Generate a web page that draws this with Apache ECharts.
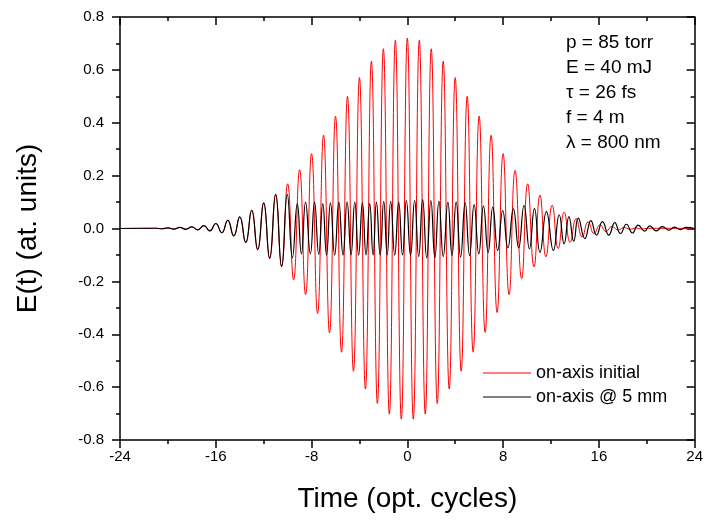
<!DOCTYPE html>
<html>
<head>
<meta charset="utf-8">
<script src="https://cdn.jsdelivr.net/npm/echarts@6/dist/echarts.min.js"></script>
<style>
  html, body { margin: 0; padding: 0; background: #fff; }
  #chart { width: 706px; height: 525px; }
</style>
</head>
<body>
<div id="chart"></div>
<script>
// field extrema: [time (opt. cycles), E (at. units)]
const redPeaks = [
  [-24, 0], [-21, 0.001], [-20.5, -0.001], [-20, 0.002], [-19.5, -0.002],
  [-19, 0.004], [-18.5, -0.003], [-18, 0.006], [-17.5, -0.005], [-17, 0.011],
  [-16.5, -0.009], [-16, 0.019], [-15.5, -0.016], [-15, 0.031], [-14.5, -0.028],
  [-14, 0.044], [-13.5, -0.053], [-13, 0.069], [-12.5, -0.080], [-12, 0.097],
  [-11.5, -0.113], [-11, 0.129], [-10.5, -0.144], [-10, 0.169], [-9.5, -0.194],
  [-9, 0.222], [-8.5, -0.25], [-8, 0.283], [-7.5, -0.321], [-7, 0.353], [-6.5, -0.395],
  [-6, 0.425], [-5.5, -0.468], [-5, 0.50], [-4.5, -0.54], [-4, 0.571], [-3.5, -0.607],
  [-3, 0.633], [-2.5, -0.662], [-2, 0.68], [-1.5, -0.702], [-1, 0.712], [-0.5, -0.721],
  [0, 0.72], [0.5, -0.721], [1, 0.712], [1.5, -0.702], [2, 0.68], [2.5, -0.662],
  [3, 0.633], [3.5, -0.607], [4, 0.571], [4.5, -0.54], [5, 0.50], [5.5, -0.468],
  [6, 0.425], [6.5, -0.393], [7, 0.353], [7.5, -0.318], [8, 0.283], [8.5, -0.25],
  [9, 0.22], [9.55, -0.19], [10.05, 0.169], [10.58, -0.145], [11.08, 0.126],
  [11.58, -0.107], [12.1, 0.088], [12.6, -0.076], [13.1, 0.062], [13.6, -0.052],
  [14.1, 0.037], [14.6, -0.032], [15.1, 0.025], [15.6, -0.019], [16.1, 0.014],
  [16.6, -0.011], [17.1, 0.008], [17.6, -0.006], [18.1, 0.004], [18.6, -0.003],
  [19.1, 0.002], [19.6, -0.002], [20.1, 0.001], [24, 0]
];

// after 5 mm: same leading edge as the initial pulse up to t = -10.5, then this
const blackPeaks = [
  [-10.03, 0.129], [-9.6, -0.111], [-9.19, 0.094], [-8.85, -0.096], [-8.5, 0.100],
  [-8.1, -0.096], [-7.75, 0.100], [-7.4, -0.098], [-7.06, 0.094], [-6.75, -0.10],
  [-6.42, 0.097], [-6.07, -0.10], [-5.72, 0.100], [-5.37, -0.10], [-5.03, 0.100],
  [-4.7, -0.10], [-4.39, 0.100], [-4.07, -0.10], [-3.75, 0.097], [-3.45, -0.10],
  [-3.14, 0.094], [-2.86, -0.10], [-2.58, 0.100], [-2.27, -0.10], [-1.97, 0.103],
  [-1.68, -0.10], [-1.39, 0.103], [-1.05, -0.10], [-0.72, 0.100], [-0.4, -0.10],
  [-0.08, 0.106], [0.27, -0.102], [0.61, 0.106], [0.95, -0.106], [1.28, 0.109],
  [1.62, -0.111], [1.97, 0.106], [2.3, -0.111], [2.64, 0.104], [3.0, -0.106],
  [3.39, 0.100], [3.73, -0.102], [4.08, 0.100], [4.45, -0.108], [4.83, 0.098],
  [5.2, -0.102], [5.58, 0.090], [5.97, -0.096], [6.36, 0.085], [6.75, -0.090],
  [7.14, 0.081], [7.55, -0.083], [7.97, 0.068], [8.4, -0.073], [8.86, 0.074],
  [9.3, -0.073], [9.75, 0.087], [10.2, -0.077], [10.62, 0.075], [11.08, -0.090],
  [11.62, 0.064], [12.2, -0.083], [12.69, 0.052], [13.1, -0.058], [13.5, 0.045],
  [13.9, -0.048], [14.28, 0.039], [14.83, -0.038], [15.33, 0.030], [15.8, -0.025],
  [16.3, 0.026], [16.83, -0.025], [17.33, 0.022], [17.8, -0.019], [18.3, 0.016],
  [18.8, -0.017], [19.28, 0.013], [19.83, -0.010], [20.25, 0.010], [20.8, -0.009],
  [21.3, 0.007], [21.86, -0.006], [22.3, 0.005], [22.8, -0.004], [23.3, 0.004], [24, 0]
];

const noteLines = ['p = 85 torr', 'E = 40 mJ', 'τ = 26 fs', 'f = 4 m', 'λ = 800 nm'];
const seriesNames = ['on-axis initial', 'on-axis @ 5 mm'];

const blackData = redPeaks.filter(p => p[0] <= -10.5).concat(blackPeaks);

const chart = echarts.init(document.getElementById('chart'), null, { renderer: 'canvas' });

const font = 'Liberation Sans, Arial, sans-serif';
const axisLine = { show: true, onZero: false, lineStyle: { color: '#000', width: 1.5 } };
const tickStyle = { width: 1.5, color: '#000' };

const option = {
  animation: false,
  textStyle: { fontFamily: font },
  grid: { left: 120, right: 11, top: 17, bottom: 85, containLabel: false },
  legend: {
    orient: 'vertical',
    left: 478,
    top: 359,
    icon: 'rect',
    itemWidth: 48,
    itemHeight: 1.2,
    itemGap: 6,
    textStyle: { fontSize: 18, color: '#000', fontFamily: font },
    data: seriesNames
  },
  xAxis: [
    {
      type: 'value', min: -24, max: 24, interval: 8, position: 'bottom',
      axisLine,
      axisTick: { show: true, inside: false, length: 8, lineStyle: tickStyle },
      minorTick: { show: true, splitNumber: 2, length: 4, lineStyle: tickStyle },
      axisLabel: { fontSize: 15, color: '#000', margin: 9 },
      splitLine: { show: false },
      name: 'Time (opt. cycles)', nameLocation: 'middle', nameGap: 45,
      nameTextStyle: { fontSize: 28, color: '#000' }
    },
    {
      type: 'value', min: -24, max: 24, interval: 8, position: 'top',
      axisLine,
      axisTick: { show: true, inside: true, length: 8, lineStyle: tickStyle },
      minorTick: { show: true, splitNumber: 2, length: 4, lineStyle: tickStyle },
      axisLabel: { show: false },
      splitLine: { show: false }
    }
  ],
  yAxis: [
    {
      type: 'value', min: -0.8, max: 0.8, interval: 0.2, position: 'left',
      axisLine,
      axisTick: { show: true, inside: false, length: 8, lineStyle: tickStyle },
      minorTick: { show: true, splitNumber: 2, length: 4, lineStyle: tickStyle },
      axisLabel: { fontSize: 15, color: '#000', margin: 16, formatter: v => v.toFixed(1) },
      splitLine: { show: false },
      name: 'E(t) (at. units)', nameLocation: 'middle', nameGap: 78, nameRotate: 90,
      nameTextStyle: { fontSize: 28, color: '#000' }
    },
    {
      type: 'value', min: -0.8, max: 0.8, interval: 0.2, position: 'right',
      axisLine,
      axisTick: { show: true, inside: true, length: 8, lineStyle: tickStyle },
      minorTick: { show: true, splitNumber: 2, length: 4, lineStyle: tickStyle },
      axisLabel: { show: false },
      splitLine: { show: false }
    }
  ],
  series: [
    {
      name: seriesNames[0], type: 'line', data: redPeaks,
      xAxisIndex: 0, yAxisIndex: 0,
      smooth: 0.5, symbol: 'none',
      lineStyle: { color: '#ff0000', width: 1 },
      itemStyle: { color: '#ff0000' }
    },
    {
      name: seriesNames[1], type: 'line', data: blackData,
      xAxisIndex: 0, yAxisIndex: 0,
      smooth: 0.5, symbol: 'none',
      lineStyle: { color: '#000', width: 1.2 },
      itemStyle: { color: '#000' }
    }
  ],
  graphic: noteLines.map((txt, i) => ({
    type: 'text',
    left: 566,
    top: 33 + i * 25,
    style: { text: txt, fontSize: 19, fill: '#000', fontFamily: font }
  }))
};

chart.setOption(option);
</script>
</body>
</html>
